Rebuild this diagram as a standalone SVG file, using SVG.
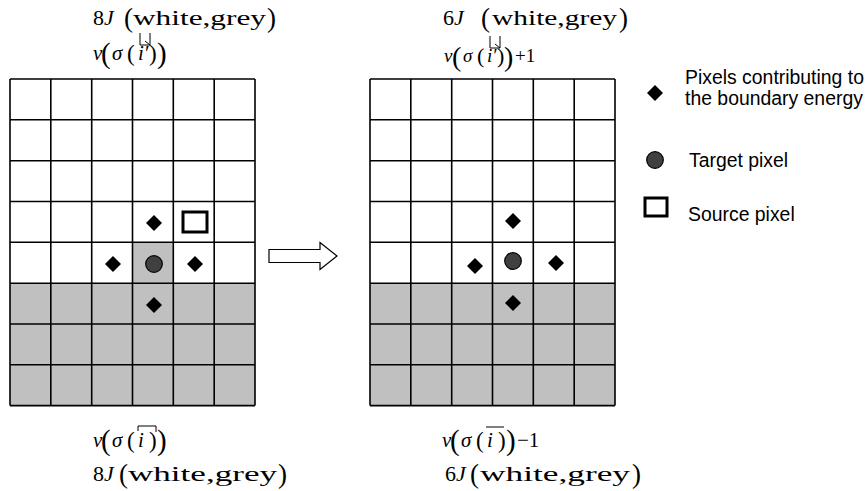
<svg xmlns="http://www.w3.org/2000/svg" width="867" height="491" viewBox="0 0 867 491">
<style>
.gl{stroke:#000;stroke-width:1.6;fill:none}
.grey{fill:#c0c0c0}
.dia{fill:#000}
.tgt{fill:#404040;stroke:#000;stroke-width:1.2}
.src{fill:#fff;stroke:#000;stroke-width:3}
.m{font-family:"Liberation Serif","Times New Roman",serif;fill:#000}
.it{font-style:italic}
.lg{font-family:"Liberation Sans",Arial,sans-serif;font-size:19.4px;fill:#000}
.acc{stroke:#000;stroke-width:1;fill:none}
</style>
<defs>
<path id="dia" d="M0,-8 L8,0 L0,8 L-8,0Z"/>
</defs>
<rect width="867" height="491" fill="#fff"/>

<g id="grid-left">
<rect x="10" y="79" width="245" height="326.6" fill="#fff"/>
<rect class="grey" x="10" y="283.2" width="245" height="122.4"/>
<rect class="grey" x="132.5" y="242.4" width="40.8" height="40.8"/>
<path class="gl" d="M10,79V405.6M50.8,79V405.6M91.7,79V405.6M132.5,79V405.6M173.3,79V405.6M214.2,79V405.6M255,79V405.6M10,79H255M10,119.8H255M10,160.7H255M10,201.5H255M10,242.3H255M10,283.2H255M10,324H255M10,364.8H255M10,405.6H255"/>
<use href="#dia" x="154" y="223" class="dia"/>
<use href="#dia" x="113" y="264" class="dia"/>
<use href="#dia" x="195" y="264" class="dia"/>
<use href="#dia" x="154" y="305" class="dia"/>
<circle class="tgt" cx="154" cy="264" r="8.3"/>
<rect class="src" x="183" y="212" width="24" height="20"/>
</g>

<g id="grid-right">
<rect x="370" y="79" width="245" height="326.6" fill="#fff"/>
<rect class="grey" x="370" y="283.2" width="245" height="122.4"/>
<path class="gl" d="M370,79V405.6M410.8,79V405.6M451.7,79V405.6M492.5,79V405.6M533.3,79V405.6M574.2,79V405.6M615,79V405.6M370,79H615M370,119.8H615M370,160.7H615M370,201.5H615M370,242.3H615M370,283.2H615M370,324H615M370,364.8H615M370,405.6H615"/>
<use href="#dia" x="513" y="221" class="dia"/>
<use href="#dia" x="475" y="266" class="dia"/>
<use href="#dia" x="556" y="263" class="dia"/>
<use href="#dia" x="513" y="303" class="dia"/>
<circle class="tgt" cx="513" cy="261" r="8.3"/>
</g>

<g id="connectors">
<polygon points="269,249.5 320,249.5 320,242.5 337,256 320,269.5 320,262.5 269,262.5" fill="#fff" stroke="#000" stroke-width="1.2"/>
</g>

<g id="legend">
<use href="#dia" x="655" y="93" class="dia"/>
<text class="lg" x="685" y="84">Pixels contributing to</text>
<text class="lg" x="685" y="105">the boundary energy</text>
<circle class="tgt" cx="655" cy="160" r="8.3"/>
<text class="lg" x="689" y="167">Target pixel</text>
<rect class="src" x="645" y="198" width="22" height="18"/>
<text class="lg" x="688" y="221">Source pixel</text>
</g>

<g id="label-top-left">
<text class="m" x="93" y="25" font-size="22">8<tspan class="it">J</tspan></text>
<text class="m" x="124" y="27" font-size="27">(</text>
<text class="m" x="133" y="25" font-size="22" textLength="133" lengthAdjust="spacingAndGlyphs">white,grey</text>
<text class="m" x="267" y="27" font-size="27">)</text>
<text class="m it" x="93" y="60" font-size="21">v</text>
<text class="m" x="101" y="63" font-size="29">(</text>
<text class="m it" x="112" y="60" font-size="21">σ</text>
<text class="m" x="127" y="61" font-size="23">(</text>
<text class="m it" x="138" y="60" font-size="21">i′</text>
<text class="m" x="149" y="61" font-size="23">)</text>
<text class="m" x="157" y="63" font-size="29">)</text>
<path class="acc" d="M140,33V45H150M150,45L145,41M150,33V45"/>
</g>

<g id="label-top-right">
<text class="m" x="443" y="25" font-size="22">6<tspan class="it">J</tspan></text>
<text class="m" x="481" y="27" font-size="27">(</text>
<text class="m" x="492" y="25" font-size="22" textLength="125" lengthAdjust="spacingAndGlyphs">white,grey</text>
<text class="m" x="619" y="27" font-size="27">)</text>
<text class="m it" x="444" y="62" font-size="19">v</text>
<text class="m" x="452" y="66" font-size="28">(</text>
<text class="m it" x="463" y="62" font-size="19">σ</text>
<text class="m" x="477" y="63" font-size="22">(</text>
<text class="m it" x="487" y="62" font-size="19">i′</text>
<text class="m" x="497" y="63" font-size="22">)</text>
<text class="m" x="504" y="66" font-size="28">)</text>
<text class="m" x="515" y="62" font-size="19">+1</text>
<path class="acc" d="M490,36V48H500M500,48L495,44M500,36V48"/>
</g>

<g id="label-bottom-left">
<text class="m it" x="93" y="447" font-size="21">v</text>
<text class="m" x="101" y="450" font-size="29">(</text>
<text class="m it" x="112" y="447" font-size="21">σ</text>
<text class="m" x="127" y="448" font-size="23">(</text>
<text class="m it" x="138" y="447" font-size="21">i</text>
<text class="m" x="149" y="448" font-size="23">)</text>
<text class="m" x="157" y="450" font-size="29">)</text>
<path class="acc" d="M138,431V426H156V432"/>
<text class="m" x="93" y="481" font-size="22">8<tspan class="it">J</tspan></text>
<text class="m" x="119" y="483" font-size="27">(</text>
<text class="m" x="128" y="481" font-size="22" textLength="149" lengthAdjust="spacingAndGlyphs">white,grey</text>
<text class="m" x="278" y="483" font-size="27">)</text>
</g>

<g id="label-bottom-right">
<text class="m it" x="442" y="447" font-size="21">v</text>
<text class="m" x="450" y="450" font-size="29">(</text>
<text class="m it" x="461" y="447" font-size="21">σ</text>
<text class="m" x="476" y="448" font-size="23">(</text>
<text class="m it" x="487" y="447" font-size="21">i</text>
<text class="m" x="498" y="448" font-size="23">)</text>
<text class="m" x="506" y="450" font-size="29">)</text>
<text class="m" x="517" y="447" font-size="21">−1</text>
<path class="acc" d="M486,427H504"/>
<text class="m" x="445" y="481" font-size="22">6<tspan class="it">J</tspan></text>
<text class="m" x="470" y="483" font-size="27">(</text>
<text class="m" x="480" y="481" font-size="22" textLength="150" lengthAdjust="spacingAndGlyphs">white,grey</text>
<text class="m" x="632" y="483" font-size="27">)</text>
</g>
</svg>
